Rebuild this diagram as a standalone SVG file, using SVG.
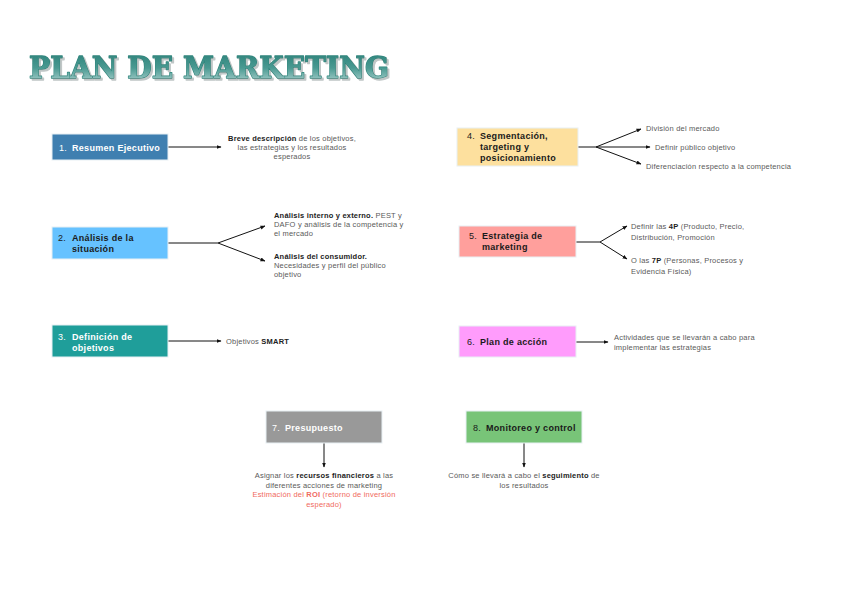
<svg xmlns="http://www.w3.org/2000/svg" width="848" height="599" viewBox="0 0 848 599">
<defs>
<linearGradient id="tg" x1="0" y1="0" x2="0" y2="1">
<stop offset="0" stop-color="#2a8078"/>
<stop offset="0.5" stop-color="#4a9a92"/>
<stop offset="1" stop-color="#b8d8d6"/>
</linearGradient>
<filter id="sh" x="-5%" y="-20%" width="110%" height="150%">
<feDropShadow dx="2" dy="2" stdDeviation="0.6" flood-color="#b0b8b8" flood-opacity="0.8"/>
</filter>
<marker id="ah" viewBox="0 0 10 10" refX="9" refY="5" markerWidth="5" markerHeight="5" orient="auto" markerUnits="userSpaceOnUse">
<path d="M0,1 L10,5 L0,9 z" fill="#111"/>
</marker>
<style>
.box{stroke:#e8f0f4;stroke-width:1}
.lbl{font-family:"Liberation Sans",Arial,sans-serif;font-size:9px;font-weight:bold;letter-spacing:0.3px}
.num{font-weight:normal}
.w{fill:#fff}
.d{fill:#1a1a1a}
.t{font-family:"Liberation Sans",Arial,sans-serif;font-size:7.5px;fill:#5a5a5a;letter-spacing:0.2px}
.b{font-weight:bold;fill:#222}
.r{fill:#f06a60}
.ln{stroke:#111;stroke-width:1;fill:none}
.ar{stroke:#111;stroke-width:1;fill:none;marker-end:url(#ah)}
</style>
</defs>
<rect width="848" height="599" fill="#fff"/>
<g id="title">
<text x="29" y="78" font-family="DejaVu Serif,serif" font-weight="bold" font-size="29" textLength="360" lengthAdjust="spacingAndGlyphs" fill="url(#tg)" stroke="#2f857c" stroke-width="1.3" stroke-linejoin="round" paint-order="stroke" filter="url(#sh)">PLAN DE MARKETING</text>
</g>
<g id="connectors">
<line class="ar" x1="168" y1="147" x2="221" y2="147"/>
<polyline class="ln" points="168,243 218,243"/>
<line class="ar" x1="218" y1="243" x2="265" y2="226"/>
<line class="ar" x1="218" y1="243" x2="265" y2="261"/>
<line class="ar" x1="168" y1="341" x2="221" y2="341"/>
<line class="ln" x1="578" y1="147" x2="596" y2="147"/>
<line class="ar" x1="596" y1="147" x2="641" y2="129"/>
<line class="ar" x1="596" y1="147" x2="650" y2="147"/>
<line class="ar" x1="596" y1="147" x2="641" y2="164"/>
<line class="ln" x1="576" y1="242" x2="600" y2="242"/>
<line class="ar" x1="600" y1="242" x2="627" y2="226"/>
<line class="ar" x1="600" y1="242" x2="627" y2="259"/>
<line class="ar" x1="576" y1="342" x2="608" y2="342"/>
<line class="ar" x1="324" y1="443" x2="324" y2="467"/>
<line class="ar" x1="524" y1="443" x2="524" y2="467"/>
</g>
<g id="n1">
<rect class="box" x="52" y="134" width="116" height="26" fill="#3f7fb0"/>
<text class="lbl w" y="151"><tspan class="num" x="59">1.</tspan><tspan x="72">Resumen Ejecutivo</tspan></text>
<text class="t" text-anchor="middle"><tspan x="292" y="141"><tspan class="b">Breve descripción</tspan> de los objetivos,</tspan><tspan x="292" y="150">las estrategias y los resultados</tspan><tspan x="292" y="159">esperados</tspan></text>
</g>
<g id="n2">
<rect class="box" x="52" y="227" width="116" height="32" fill="#66c2ff"/>
<text class="lbl d" y="241"><tspan class="num" x="58">2.</tspan><tspan x="72">Análisis de la</tspan></text>
<text class="lbl d" x="72" y="252">situación</text>
<text class="t"><tspan x="274" y="218"><tspan class="b">Análisis interno y externo.</tspan> PEST y</tspan><tspan x="274" y="227">DAFO y análisis de la competencia y</tspan><tspan x="274" y="236">el mercado</tspan></text>
<text class="t"><tspan x="274" y="259"><tspan class="b">Análisis del consumidor.</tspan></tspan><tspan x="274" y="268">Necesidades y perfil del público</tspan><tspan x="274" y="277">objetivo</tspan></text>
</g>
<g id="n3">
<rect class="box" x="52" y="325" width="116" height="32" fill="#1f9e9a"/>
<text class="lbl w" y="340"><tspan class="num" x="58">3.</tspan><tspan x="72">Definición de</tspan></text>
<text class="lbl w" x="72" y="351">objetivos</text>
<text class="t" x="226" y="344">Objetivos <tspan class="b">SMART</tspan></text>
</g>
<g id="n4">
<rect class="box" x="457" y="128" width="121" height="38" fill="#fde09e"/>
<text class="lbl d" y="139"><tspan class="num" x="467">4.</tspan><tspan x="480">Segmentación,</tspan></text>
<text class="lbl d" x="480" y="150">targeting y</text>
<text class="lbl d" x="480" y="161">posicionamiento</text>
<text class="t" x="646" y="131">División del mercado</text>
<text class="t" x="655" y="150">Definir público objetivo</text>
<text class="t" x="646" y="169">Diferenciación respecto a la competencia</text>
</g>
<g id="n5">
<rect class="box" x="459" y="226" width="117" height="31" fill="#ff9f9c"/>
<text class="lbl d" y="239"><tspan class="num" x="469">5.</tspan><tspan x="482">Estrategia de</tspan></text>
<text class="lbl d" x="482" y="250">marketing</text>
<text class="t"><tspan x="631" y="229">Definir las <tspan class="b">4P</tspan> (Producto, Precio,</tspan><tspan x="631" y="240">Distribución, Promoción</tspan></text>
<text class="t"><tspan x="631" y="263">O las <tspan class="b">7P</tspan> (Personas, Procesos y</tspan><tspan x="631" y="274">Evidencia Física)</tspan></text>
</g>
<g id="n6">
<rect class="box" x="459" y="326" width="117" height="31" fill="#ff9cfc"/>
<text class="lbl d" y="345"><tspan class="num" x="467">6.</tspan><tspan x="480">Plan de acción</tspan></text>
<text class="t"><tspan x="614" y="340">Actividades que se llevarán a cabo para</tspan><tspan x="614" y="350">implementar las estrategias</tspan></text>
</g>
<g id="n7">
<rect class="box" x="266" y="411" width="116" height="32" fill="#999999"/>
<text class="lbl w" y="431"><tspan class="num" x="272">7.</tspan><tspan x="285">Presupuesto</tspan></text>
<text class="t" text-anchor="middle"><tspan x="324" y="478">Asignar los <tspan class="b">recursos financieros</tspan> a las</tspan><tspan x="324" y="488">diferentes acciones de marketing</tspan><tspan class="r" x="324" y="497">Estimación del <tspan font-weight="bold">ROI</tspan> (retorno de inversión</tspan><tspan class="r" x="324" y="507">esperado)</tspan></text>
</g>
<g id="n8">
<rect class="box" x="466" y="411" width="116" height="32" fill="#78c478"/>
<text class="lbl d" y="431"><tspan class="num" x="473">8.</tspan><tspan x="486">Monitoreo y control</tspan></text>
<text class="t" text-anchor="middle"><tspan x="524" y="478">Cómo se llevará a cabo el <tspan class="b">seguimiento</tspan> de</tspan><tspan x="524" y="488">los resultados</tspan></text>
</g>
</svg>
